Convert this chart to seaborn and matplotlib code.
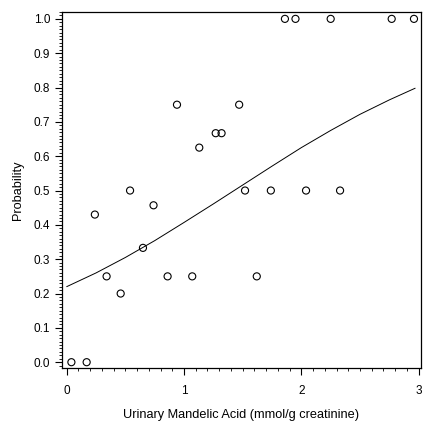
import matplotlib
matplotlib.use("Agg")
import matplotlib.pyplot as plt
from matplotlib.ticker import MultipleLocator, FormatStrFormatter
import seaborn as sns
import pandas as pd

# Observed proportions by urinary mandelic acid level
mandelic_acid = [0.04, 0.17, 0.24, 0.34, 0.46, 0.54, 0.65, 0.74, 0.86, 0.94,
                 1.07, 1.13, 1.27, 1.32, 1.47, 1.52, 1.62, 1.74, 1.86, 1.95,
                 2.04, 2.25, 2.33, 2.77, 2.96]
probability = [0.0, 0.0, 0.43, 0.25, 0.20, 0.50, 0.333, 0.457, 0.25, 0.75,
               0.25, 0.625, 0.667, 0.667, 0.75, 0.50, 0.25, 0.50, 1.0, 1.0,
               0.50, 1.0, 0.50, 1.0, 1.0]

# Fitted logistic curve
curve_x = [0.0, 0.25, 0.5, 0.75, 1.0, 1.25, 1.5, 1.75, 2.0, 2.25, 2.5, 2.75, 2.97]
curve_p = [0.220, 0.260, 0.305, 0.354, 0.407, 0.461, 0.516, 0.571, 0.625,
           0.675, 0.722, 0.764, 0.798]

x_ticks = [0, 1, 2, 3]
y_ticks = [0.0, 0.1, 0.2, 0.3, 0.4, 0.5, 0.6, 0.7, 0.8, 0.9, 1.0]

sns.set_theme(style="ticks")
plt.rcParams["font.family"] = ["Liberation Sans", "DejaVu Sans"]

obs = pd.DataFrame({"x": mandelic_acid, "p": probability})
fit = pd.DataFrame({"x": curve_x, "p": curve_p})

fig = plt.figure(figsize=(4.23, 4.24), dpi=100)
ax = fig.add_axes([0.1466, 0.132, 0.9953 - 0.1466, 0.9717 - 0.132])

sns.scatterplot(data=obs, x="x", y="p", ax=ax, marker="o", s=26,
                facecolor="none", edgecolor="black", linewidth=0.8, zorder=3)
sns.lineplot(data=fit, x="x", y="p", ax=ax, color="black", linewidth=0.7,
             estimator=None, sort=True)

ax.set_xlim(-0.04, 3.02)
ax.set_ylim(-0.017, 1.02)
ax.set_xticks(x_ticks)
ax.set_yticks(y_ticks)
ax.yaxis.set_major_formatter(FormatStrFormatter("%.1f"))
ax.xaxis.set_minor_locator(MultipleLocator(0.1))
ax.yaxis.set_minor_locator(MultipleLocator(0.01))

ax.tick_params(axis="both", which="major", direction="out", length=5, width=0.8,
               color="black", labelsize=8.5, labelcolor="black")
ax.tick_params(axis="x", which="major", pad=7.5)
ax.tick_params(axis="y", which="major", pad=3.5)
ax.tick_params(axis="both", which="minor", direction="out", length=2.5,
               width=0.6, color="black")

for side in ["left", "right", "top", "bottom"]:
    ax.spines[side].set_visible(True)
    ax.spines[side].set_color("black")
    ax.spines[side].set_linewidth(0.9)

ax.set_xlabel("Urinary Mandelic Acid (mmol/g creatinine)", fontsize=9.2,
              color="black", labelpad=8.5)
ax.set_ylabel("Probability", fontsize=9.2, color="black", labelpad=7)

fig.savefig("out.png", dpi=100, facecolor="white")
